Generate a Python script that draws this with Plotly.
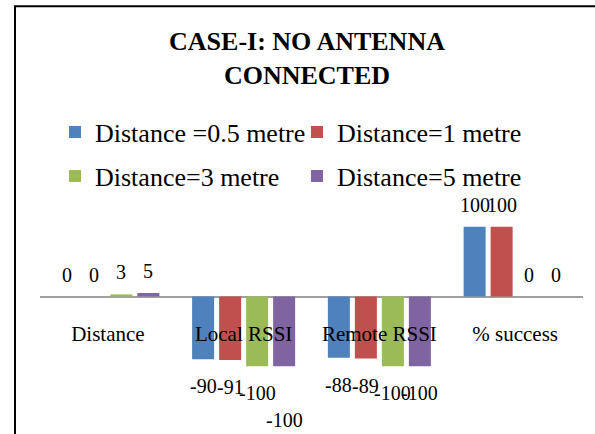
import plotly.graph_objects as go

# Measurement categories along the x axis
categories = ["Distance", "Local RSSI", "Remote RSSI", "% success"]

# One series per antenna distance
series_names = [
    "Distance =0.5 metre",
    "Distance=1 metre",
    "Distance=3 metre",
    "Distance=5 metre",
]
dist_0_5m = [0, -90, -88, 100]
dist_1m = [0, -91, -89, 100]
dist_3m = [3, -100, -100, 0]
dist_5m = [5, -100, -100, 0]
series_values = [dist_0_5m, dist_1m, dist_3m, dist_5m]

colors = ["#4F81BD", "#C0504D", "#9BBB59", "#8064A2"]
FONT = "Liberation Serif"

W, H = 595, 434
M_L, M_R, M_T, M_B = 40, 12, 192, 33
PLOT_W = W - M_L - M_R
PLOT_H = H - M_T - M_B
Y_RANGE = [-150, 150]

BARGAP = 0.2044
SLOT = (1 - BARGAP) * PLOT_W / len(categories) / len(series_names)

fig = go.Figure()
for i, (name, vals) in enumerate(zip(series_names, series_values)):
    fig.add_trace(go.Bar(
        x=categories,
        y=vals,
        name=name,
        marker=dict(color=colors[i], line=dict(width=0)),
        legend="legend" if i < 2 else "legend2",
    ))

# value labels placed just past the end of each bar
nudge = {(3, 1): -26.5}  # second label pushed clear of its neighbour
annotations = []
for i, vals in enumerate(series_values):
    for j, v in enumerate(vals):
        dy = 22 if v >= 0 else -27
        dy += nudge.get((i, j), 0)
        annotations.append(dict(
            x=categories[j], y=v, xref="x", yref="y",
            xshift=(i - 1.5) * SLOT, yshift=dy,
            text=str(v), showarrow=False,
            xanchor="center", yanchor="middle",
            font=dict(family=FONT, size=20, color="black"),
        ))

# outer frame of the chart
py = lambda px: (H - M_B - px) / PLOT_H
px_ = lambda p: (p - M_L) / PLOT_W
shapes = [dict(
    type="rect", xref="paper", yref="paper",
    x0=px_(15), x1=px_(605), y0=py(445), y1=py(6.3),
    line=dict(color="black", width=2), fillcolor="rgba(0,0,0,0)",
    layer="above",
)]

legend_common = dict(
    orientation="h", xref="container", yref="container",
    xanchor="left", yanchor="middle",
    font=dict(family=FONT, size=26, color="black"),
    entrywidth=197, entrywidthmode="pixels",
    bgcolor="rgba(0,0,0,0)", borderwidth=0,
    itemclick=False, itemdoubleclick=False,
)

fig.update_layout(
    width=W, height=H,
    margin=dict(l=M_L, r=M_R, t=M_T, b=M_B, pad=0, autoexpand=False),
    paper_bgcolor="white", plot_bgcolor="white",
    barmode="group", bargap=BARGAP, bargroupgap=0.185,
    title=dict(
        text="<b>CASE-I: NO ANTENNA<br>CONNECTED</b>",
        xref="container", yref="container",
        x=307 / W, xanchor="center",
        y=1 - 50 / H, yanchor="top",
        font=dict(family=FONT, size=26, color="black"),
    ),
    legend=dict(x=55 / W, y=1 - 132 / H, **legend_common),
    legend2=dict(x=55 / W, y=1 - 176 / H, **legend_common),
    xaxis=dict(
        type="category", anchor="free", position=py(319.4),
        showline=False, ticks="", showgrid=False, zeroline=False,
        tickfont=dict(family=FONT, size=21, color="black"),
    ),
    yaxis=dict(
        range=Y_RANGE, showticklabels=False, showgrid=False,
        zeroline=True, zerolinecolor="#A0A0A0", zerolinewidth=1.6,
        showline=False, ticks="",
    ),
    annotations=annotations,
    shapes=shapes,
    showlegend=True,
)

fig.write_html("out.html")
